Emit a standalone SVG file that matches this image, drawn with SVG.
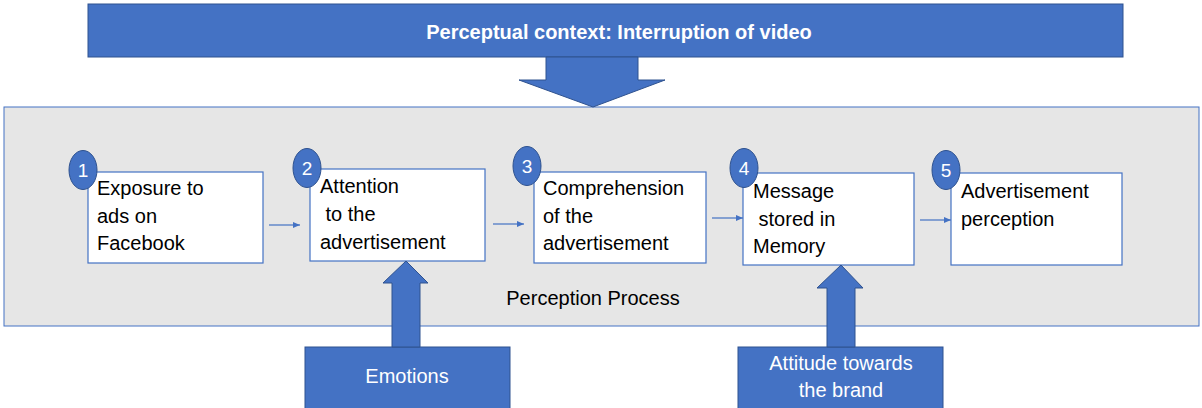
<svg xmlns="http://www.w3.org/2000/svg" width="1202" height="408" viewBox="0 0 1202 408">
<style>
.blue{fill:#4472c4;stroke:#2f528f;stroke-width:1}
.box{fill:#ffffff;stroke:#4472c4;stroke-width:1.2}
.t{font-family:"Liberation Sans",Arial,sans-serif;font-size:20px;fill:#000}
.w{font-family:"Liberation Sans",Arial,sans-serif;font-size:20px;fill:#ffffff}
.num{font-family:"Liberation Sans",Arial,sans-serif;font-size:19px;fill:#ffffff;text-anchor:middle}
.badge{fill:#4472c4;stroke:#2f528f;stroke-width:1}
.conn{stroke:#4472c4;stroke-width:1.2;fill:none}
</style>
<defs>
<marker id="ah" markerWidth="8" markerHeight="8" refX="7" refY="4" orient="auto" markerUnits="userSpaceOnUse">
<path d="M0,1 L7,4 L0,7 Z" fill="#4472c4"/>
</marker>
</defs>
<rect width="1202" height="408" fill="#ffffff"/>
<g id="context">
<rect class="blue" x="88" y="4" width="1035" height="53"/>
<text class="w" x="619" y="39" text-anchor="middle" font-weight="bold">Perceptual context: Interruption of video</text>
</g>
<g id="process">
<rect x="4" y="107" width="1195" height="219" fill="#e6e6e6" stroke="#4472c4" stroke-width="1"/>
<text class="t" x="593" y="305" text-anchor="middle">Perception Process</text>
</g>
<g id="context-arrow">
<path class="blue" d="M546,57 L638,57 L638,80 L665,80 L593,107 L519,80 L546,80 Z"/>
</g>
<g id="n1">
<rect class="box" x="88" y="172" width="175" height="91"/>
<text class="t" x="97" y="195">Exposure to</text>
<text class="t" x="97" y="223">ads on</text>
<text class="t" x="97" y="250">Facebook</text>
<ellipse class="badge" cx="83" cy="170" rx="14" ry="19.5"/>
<text class="num" x="83" y="177">1</text>
</g>
<g id="n2">
<rect class="box" x="310" y="169" width="175" height="92"/>
<text class="t" x="320" y="193">Attention</text>
<text class="t" x="320" y="221" xml:space="preserve"> to the</text>
<text class="t" x="320" y="249">advertisement</text>
<ellipse class="badge" cx="307" cy="168" rx="14" ry="19.5"/>
<text class="num" x="307" y="175">2</text>
</g>
<g id="n3">
<rect class="box" x="534" y="172" width="172" height="91"/>
<text class="t" x="543" y="195">Comprehension</text>
<text class="t" x="543" y="223">of the</text>
<text class="t" x="543" y="250">advertisement</text>
<ellipse class="badge" cx="527" cy="166" rx="14" ry="19.5"/>
<text class="num" x="527" y="173">3</text>
</g>
<g id="n4">
<rect class="box" x="743" y="173" width="171" height="92"/>
<text class="t" x="753" y="198">Message</text>
<text class="t" x="753" y="226" xml:space="preserve"> stored in</text>
<text class="t" x="753" y="253">Memory</text>
<ellipse class="badge" cx="744" cy="168" rx="14" ry="19.5"/>
<text class="num" x="744" y="175">4</text>
</g>
<g id="n5">
<rect class="box" x="951" y="173" width="171" height="92"/>
<text class="t" x="961" y="198">Advertisement</text>
<text class="t" x="961" y="226">perception</text>
<ellipse class="badge" cx="946" cy="170" rx="14" ry="19.5"/>
<text class="num" x="946" y="177">5</text>
</g>
<g id="emotions">
<rect class="blue" x="305" y="347" width="205" height="65"/>
<text class="w" x="407" y="383" text-anchor="middle">Emotions</text>
</g>
<g id="attitude">
<rect class="blue" x="738" y="347" width="205" height="65"/>
<text class="w" x="841" y="370" text-anchor="middle">Attitude towards</text>
<text class="w" x="841" y="397" text-anchor="middle">the brand</text>
</g>
<g id="connectors">
<line class="conn" x1="269" y1="225" x2="300" y2="225" marker-end="url(#ah)"/>
<line class="conn" x1="493" y1="224" x2="524" y2="224" marker-end="url(#ah)"/>
<line class="conn" x1="712" y1="218" x2="743" y2="218" marker-end="url(#ah)"/>
<line class="conn" x1="920" y1="220" x2="951" y2="220" marker-end="url(#ah)"/>
<path class="blue" d="M392,347 L392,283 L383,283 L406,261 L428,283 L420,283 L420,347 Z"/>
<path class="blue" d="M827,347 L827,288 L817,288 L841,265 L863,288 L855,288 L855,347 Z"/>
</g>
</svg>
